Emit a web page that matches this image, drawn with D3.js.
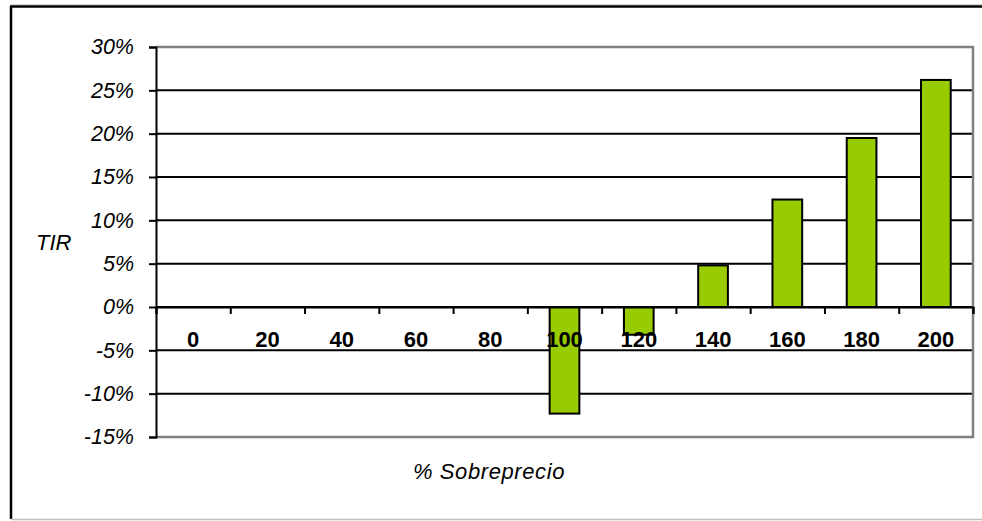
<!DOCTYPE html>
<html>
<head>
<meta charset="utf-8">
<script src="https://cdn.jsdelivr.net/npm/d3@7"></script>
<style>
  body { margin: 0; background: #fff; }
  text { font-family: "Liberation Sans", Arial, sans-serif; }
</style>
</head>
<body>
<div class="chart"></div>
<script>
// % sobreprecio categories and TIR values (in %)
let categories = ["0", "20", "40", "60", "80", "100", "120", "140", "160", "180", "200"]
let tir_values = [0, 0, 0, 0, 0, -12.3, -3.2, 4.8, 12.4, 19.5, 26.2]
let y_ticks = [30, 25, 20, 15, 10, 5, 0, -5, -10, -15]

let width = 982
let height = 521
let plot = {left: 156, right: 973, top: 47, bottom: 437}

let svg = d3.select(".chart")
    .append("svg")
        .attr("width", width)
        .attr("height", height)

// outer frame
svg.append("line")
    .attr("x1", 11).attr("x2", width).attr("y1", 4.5).attr("y2", 4.5)
    .attr("stroke", "#d0d0d0").attr("stroke-width", 1)
svg.append("line")
    .attr("x1", 10).attr("x2", width).attr("y1", 6.5).attr("y2", 6.5)
    .attr("stroke", "#000").attr("stroke-width", 2.5)
svg.append("line")
    .attr("x1", 11).attr("x2", 11).attr("y1", 6).attr("y2", 519)
    .attr("stroke", "#000").attr("stroke-width", 2.5)
svg.append("line")
    .attr("x1", 11).attr("x2", width).attr("y1", 519.5).attr("y2", 519.5)
    .attr("stroke", "#c0c0c0").attr("stroke-width", 1.5)

let x = d3.scaleBand()
    .domain(categories)
    .range([plot.left, plot.right])
    .padding(0)

// boundaries between categories for the tick marks
let x_edges = d3.scaleLinear()
    .domain([0, categories.length])
    .range([plot.left, plot.right])

let y = d3.scaleLinear()
    .domain([-15, 30])
    .range([plot.bottom, plot.top])

// gridlines
svg.append("g")
    .selectAll("line")
    .data(y_ticks.filter(d => d != 30 && d != -15))
    .enter()
    .append("line")
        .attr("x1", plot.left)
        .attr("x2", plot.right)
        .attr("y1", d => y(d))
        .attr("y2", d => y(d))
        .attr("stroke", "#000")
        .attr("stroke-width", 2)

// plot area border (gray)
svg.append("path")
    .attr("d", "M" + plot.left + "," + y(30) + "H" + plot.right + "V" + y(-15) + "H" + plot.left)
    .attr("fill", "none")
    .attr("stroke", "#808080")
    .attr("stroke-width", 2.5)

// bars
let bar_w = x.bandwidth() * 0.4
svg.append("g")
    .selectAll("rect")
    .data(tir_values.map((v, i) => ({cat: categories[i], v: v})).filter(d => d.v != 0))
    .enter()
    .append("rect")
        .attr("x", d => x(d.cat) + (x.bandwidth() - bar_w) / 2)
        .attr("width", bar_w)
        .attr("y", d => y(Math.max(0, d.v)))
        .attr("height", d => Math.abs(y(d.v) - y(0)))
        .attr("fill", "#99cc00")
        .attr("stroke", "#000")
        .attr("stroke-width", 2)

// y axis
let y_axis = svg.append("g")
    .attr("transform", "translate(" + plot.left + ",0)")
    .call(d3.axisLeft(y)
        .tickValues(y_ticks)
        .tickSize(7)
        .tickPadding(15)
        .tickFormat(d => d + "%"))
y_axis.select(".domain").attr("stroke", "#000").attr("stroke-width", 2)
y_axis.selectAll(".tick line").attr("stroke", "#000").attr("stroke-width", 2)
y_axis.selectAll(".tick text")
    .attr("font-size", 21.5)
    .attr("font-style", "italic")
    .attr("fill", "#000")
    .attr("font-family", "Liberation Sans, Arial, sans-serif")

// x axis ticks at category edges, on the 0% line
let x_axis = svg.append("g")
    .attr("transform", "translate(0," + y(0) + ")")
    .call(d3.axisBottom(x_edges)
        .tickValues(d3.range(categories.length + 1))
        .tickSize(7)
        .tickFormat(""))
x_axis.select(".domain").attr("stroke", "#000").attr("stroke-width", 2)
x_axis.selectAll(".tick line").attr("stroke", "#000").attr("stroke-width", 2)

// category labels (drawn over bars)
svg.append("g")
    .selectAll("text")
    .data(categories)
    .enter()
    .append("text")
        .attr("x", d => x(d) + x.bandwidth() / 2)
        .attr("y", y(0) + 40)
        .attr("text-anchor", "middle")
        .attr("font-size", 22)
        .attr("font-weight", "bold")
        .text(d => d)

// axis titles
svg.append("text")
    .attr("x", 36)
    .attr("y", 250)
    .attr("font-size", 22)
    .attr("font-style", "italic")
    .text("TIR")

svg.append("text")
    .attr("x", 489)
    .attr("y", 479)
    .attr("text-anchor", "middle")
    .attr("font-size", 22)
    .attr("font-style", "italic")
    .attr("letter-spacing", 0.6)
    .text("% Sobreprecio")
</script>
</body>
</html>
